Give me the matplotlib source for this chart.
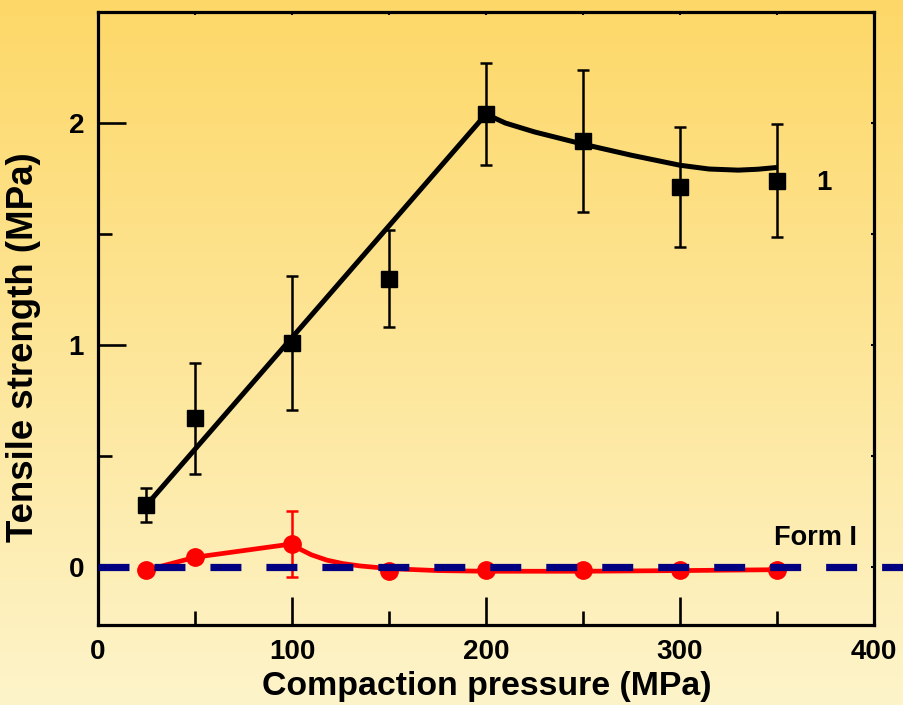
import numpy as np
import matplotlib
matplotlib.use("Agg")
import matplotlib.pyplot as plt
from matplotlib.ticker import MultipleLocator, FixedLocator, NullFormatter

plt.rcParams['font.family'] = ['Liberation Sans', 'DejaVu Sans']
plt.rcParams['font.weight'] = 'bold'
plt.rcParams['lines.scale_dashes'] = False

# Measured tensile strength, sample 1 (squares)
pressure = [25, 50, 100, 150, 200, 250, 300, 350]
strength_1 = [0.28, 0.67, 1.01, 1.30, 2.04, 1.92, 1.71, 1.74]
err_1 = [0.075, 0.25, 0.30, 0.22, 0.23, 0.32, 0.27, 0.255]

# Measured tensile strength, Form I (circles)
strength_form1 = [-0.013, 0.045, 0.105, -0.015, -0.013, -0.014, -0.013, -0.013]
err_form1 = [0, 0, 0.15, 0, 0, 0, 0, 0]

# Trend curves drawn through the data
trend_1_x = [25, 200, 210, 225, 250, 275, 300, 315, 330, 340, 350]
trend_1_y = [0.28, 2.04, 2.00, 1.96, 1.905, 1.855, 1.81, 1.793, 1.788, 1.792, 1.80]
trend_f_x = [25, 50, 100, 104, 110, 118, 126, 135, 150, 175, 200, 250, 300, 350]
trend_f_y = [-0.013, 0.045, 0.105, 0.082, 0.056, 0.032, 0.017, 0.006, -0.006,
             -0.015, -0.018, -0.018, -0.015, -0.011]

W, H = 904, 705
fig = plt.figure(figsize=(W / 100, H / 100), dpi=100)

# Vertical yellow gradient background
bg = fig.add_axes([0, 0, 1, 1], zorder=-10)
top = np.array([253, 216, 104]) / 255
bottom = np.array([254, 244, 202]) / 255
t = np.linspace(0, 1, 256)[:, None]
grad = top[None, :] * (1 - t) + bottom[None, :] * t
bg.imshow(grad[:, None, :], aspect='auto', extent=[0, 1, 0, 1])
bg.axis('off')

x0, x1, y0, y1 = 98, 874, 12, 625
ax = fig.add_axes([x0 / W, 1 - y1 / H, (x1 - x0) / W, (y1 - y0) / H])
ax.patch.set_alpha(0)
ax.set_xlim(0, 400)
ax.set_ylim(-0.26, 2.5)

for s in ax.spines.values():
    s.set_linewidth(2.3)

ax.xaxis.set_major_locator(FixedLocator([0, 100, 200, 300, 400]))
ax.xaxis.set_minor_locator(FixedLocator([50, 150, 250, 350]))
ax.yaxis.set_major_locator(FixedLocator([0, 1, 2]))
ax.yaxis.set_minor_locator(FixedLocator([0.5, 1.5]))
ax.tick_params(which='major', direction='in', length=20, width=1.9,
               labelsize=20, top=False, right=False)
ax.tick_params(axis='x', which='major', pad=10)
ax.tick_params(axis='y', which='major', pad=10)
ax.tick_params(which='minor', direction='in', length=10, width=1.9,
               top=False, right=False)
for lab in ax.get_xticklabels() + ax.get_yticklabels():
    lab.set_fontweight('bold')

# Short ticks on the top and right frame
sx = ax.secondary_xaxis('top')
sx.xaxis.set_major_locator(MultipleLocator(50))
sx.xaxis.set_major_formatter(NullFormatter())
sx.tick_params(direction='in', length=2.5, width=1.5)
sx.spines['top'].set_visible(False)
sy = ax.secondary_yaxis('right')
sy.yaxis.set_major_locator(MultipleLocator(0.5))
sy.yaxis.set_major_formatter(NullFormatter())
sy.tick_params(direction='in', length=2.5, width=1.5)
sy.spines['right'].set_visible(False)

# Sample 1
ax.plot(trend_1_x, trend_1_y, color='black', lw=3.6, solid_capstyle='butt', zorder=3)
ax.errorbar(pressure, strength_1, yerr=err_1, fmt='s', color='black', ms=12,
            elinewidth=1.8, capsize=4.5, capthick=1.8, zorder=4)

# Form I
ax.plot(trend_f_x, trend_f_y, color='#ff0000', lw=3.4, zorder=3)
ax.errorbar(pressure, strength_form1, yerr=err_form1, fmt='o', color='#ff0000',
            ms=12.5, elinewidth=1.8, capsize=4.5, capthick=1.8, zorder=4)

# Zero reference line
ax.plot([0, 420], [0, 0], color='#000080', lw=5.2, dashes=(22.3, 18),
        dash_capstyle='butt', clip_on=False, zorder=5)

ax.text(374.2, 1.73, '1', fontsize=20, fontweight='bold', ha='center', va='center')
ax.text(369.8, 0.13, 'Form I', fontsize=19.5, fontweight='bold', ha='center', va='center')

fig.text(487 / W, 1 - 686 / H, 'Compaction pressure (MPa)', fontsize=24.4,
         fontweight='bold', ha='center', va='center')
fig.text(24 / W, 1 - 347 / H, 'Tensile strength (MPa)', fontsize=26.4,
         fontweight='bold', ha='center', va='center', rotation=90)

fig.savefig('out.png', dpi=100)
